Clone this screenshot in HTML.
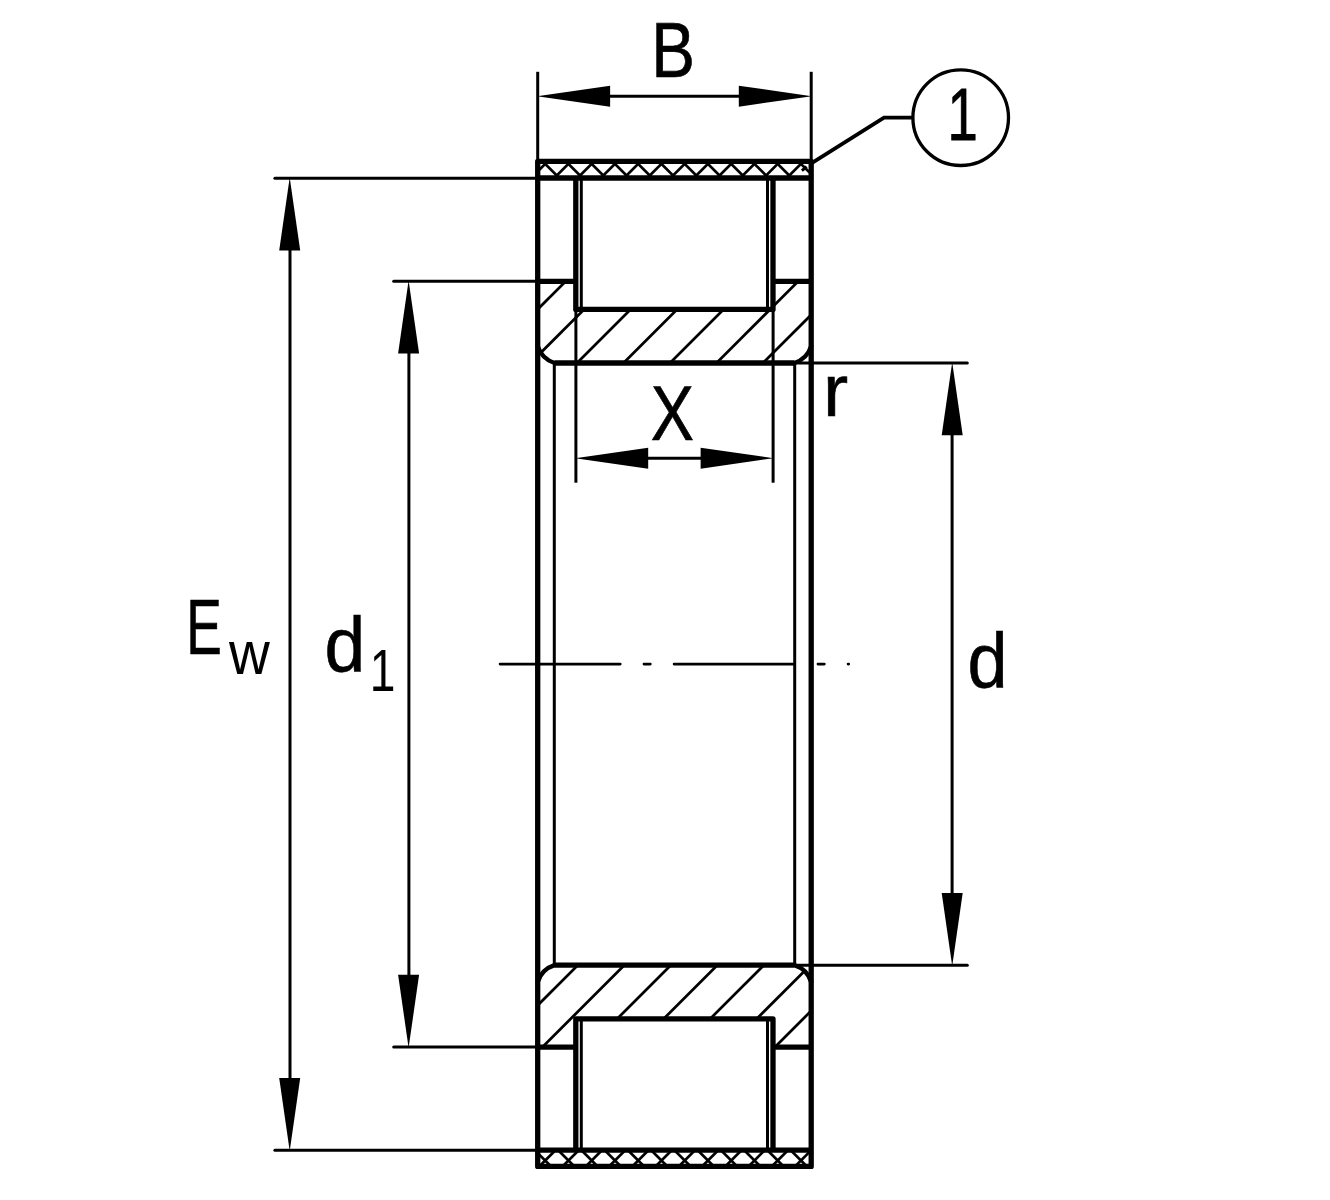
<!DOCTYPE html>
<html lang="en"><head><meta charset="utf-8"><title>Bearing drawing</title>
<style>html,body{margin:0;padding:0;background:#fff}svg{display:block}text{font-family:"Liberation Sans",sans-serif;fill:#000}</style></head><body>
<svg width="1330" height="1200" viewBox="0 0 1330 1200">
<rect width="1330" height="1200" fill="#fff"/>
<defs>
<clipPath id="c1"><path d="M537.7,281.3 H575.8 V309.4 H773.0 V281.3 H811.2 V346.2 A26.0,26.0 0 0 1 794.4000000000001,363.0 H554.5 A26.0,26.0 0 0 1 537.7,346.2 Z"/></clipPath>
<clipPath id="c2"><path d="M537.7,1047.2 H575.8 V1018.8 H773.0 V1047.2 H811.2 V982.0 A26.0,26.0 0 0 0 794.4000000000001,965.2 H554.5 A26.0,26.0 0 0 0 537.7,982.0 Z"/></clipPath>
<clipPath id="c3"><rect x="537.7" y="161.35" width="273.5" height="16.650000000000006"/></clipPath>
<clipPath id="c4"><rect x="537.7" y="1150.2" width="273.5" height="16.25"/></clipPath>
</defs>
<g clip-path="url(#c1)" stroke="#000" stroke-width="2.7" fill="none"><line x1="577.00" y1="270" x2="472.00" y2="375"/><line x1="623.50" y1="270" x2="518.50" y2="375"/><line x1="670.00" y1="270" x2="565.00" y2="375"/><line x1="716.50" y1="270" x2="611.50" y2="375"/><line x1="763.00" y1="270" x2="658.00" y2="375"/><line x1="809.50" y1="270" x2="704.50" y2="375"/><line x1="856.00" y1="270" x2="751.00" y2="375"/><line x1="902.50" y1="270" x2="797.50" y2="375"/></g>
<g clip-path="url(#c2)" stroke="#000" stroke-width="2.7" fill="none"><line x1="588.00" y1="955" x2="483.00" y2="1060"/><line x1="634.50" y1="955" x2="529.50" y2="1060"/><line x1="681.00" y1="955" x2="576.00" y2="1060"/><line x1="727.50" y1="955" x2="622.50" y2="1060"/><line x1="774.00" y1="955" x2="669.00" y2="1060"/><line x1="820.50" y1="955" x2="715.50" y2="1060"/><line x1="867.00" y1="955" x2="762.00" y2="1060"/><line x1="913.50" y1="955" x2="808.50" y2="1060"/></g>
<g clip-path="url(#c3)" stroke="#000" stroke-width="2.7" fill="none"><line x1="530.80" y1="155" x2="500.80" y2="185"/><line x1="554.05" y1="155" x2="524.05" y2="185"/><line x1="577.30" y1="155" x2="547.30" y2="185"/><line x1="600.55" y1="155" x2="570.55" y2="185"/><line x1="623.80" y1="155" x2="593.80" y2="185"/><line x1="647.05" y1="155" x2="617.05" y2="185"/><line x1="670.30" y1="155" x2="640.30" y2="185"/><line x1="693.55" y1="155" x2="663.55" y2="185"/><line x1="716.80" y1="155" x2="686.80" y2="185"/><line x1="740.05" y1="155" x2="710.05" y2="185"/><line x1="763.30" y1="155" x2="733.30" y2="185"/><line x1="786.55" y1="155" x2="756.55" y2="185"/><line x1="809.80" y1="155" x2="779.80" y2="185"/><line x1="833.05" y1="155" x2="803.05" y2="185"/><line x1="856.30" y1="155" x2="826.30" y2="185"/><line x1="879.55" y1="155" x2="849.55" y2="185"/></g>
<g clip-path="url(#c3)" stroke="#000" stroke-width="2.7" fill="none"><line x1="489.80" y1="155" x2="519.80" y2="185"/><line x1="513.05" y1="155" x2="543.05" y2="185"/><line x1="536.30" y1="155" x2="566.30" y2="185"/><line x1="559.55" y1="155" x2="589.55" y2="185"/><line x1="582.80" y1="155" x2="612.80" y2="185"/><line x1="606.05" y1="155" x2="636.05" y2="185"/><line x1="629.30" y1="155" x2="659.30" y2="185"/><line x1="652.55" y1="155" x2="682.55" y2="185"/><line x1="675.80" y1="155" x2="705.80" y2="185"/><line x1="699.05" y1="155" x2="729.05" y2="185"/><line x1="722.30" y1="155" x2="752.30" y2="185"/><line x1="745.55" y1="155" x2="775.55" y2="185"/><line x1="768.80" y1="155" x2="798.80" y2="185"/><line x1="792.05" y1="155" x2="822.05" y2="185"/><line x1="815.30" y1="155" x2="845.30" y2="185"/><line x1="838.55" y1="155" x2="868.55" y2="185"/></g>
<g clip-path="url(#c4)" stroke="#000" stroke-width="2.7" fill="none"><line x1="514.20" y1="1145" x2="487.20" y2="1172"/><line x1="537.45" y1="1145" x2="510.45" y2="1172"/><line x1="560.70" y1="1145" x2="533.70" y2="1172"/><line x1="583.95" y1="1145" x2="556.95" y2="1172"/><line x1="607.20" y1="1145" x2="580.20" y2="1172"/><line x1="630.45" y1="1145" x2="603.45" y2="1172"/><line x1="653.70" y1="1145" x2="626.70" y2="1172"/><line x1="676.95" y1="1145" x2="649.95" y2="1172"/><line x1="700.20" y1="1145" x2="673.20" y2="1172"/><line x1="723.45" y1="1145" x2="696.45" y2="1172"/><line x1="746.70" y1="1145" x2="719.70" y2="1172"/><line x1="769.95" y1="1145" x2="742.95" y2="1172"/><line x1="793.20" y1="1145" x2="766.20" y2="1172"/><line x1="816.45" y1="1145" x2="789.45" y2="1172"/><line x1="839.70" y1="1145" x2="812.70" y2="1172"/><line x1="862.95" y1="1145" x2="835.95" y2="1172"/></g>
<g clip-path="url(#c4)" stroke="#000" stroke-width="2.7" fill="none"><line x1="483.20" y1="1145" x2="510.20" y2="1172"/><line x1="506.45" y1="1145" x2="533.45" y2="1172"/><line x1="529.70" y1="1145" x2="556.70" y2="1172"/><line x1="552.95" y1="1145" x2="579.95" y2="1172"/><line x1="576.20" y1="1145" x2="603.20" y2="1172"/><line x1="599.45" y1="1145" x2="626.45" y2="1172"/><line x1="622.70" y1="1145" x2="649.70" y2="1172"/><line x1="645.95" y1="1145" x2="672.95" y2="1172"/><line x1="669.20" y1="1145" x2="696.20" y2="1172"/><line x1="692.45" y1="1145" x2="719.45" y2="1172"/><line x1="715.70" y1="1145" x2="742.70" y2="1172"/><line x1="738.95" y1="1145" x2="765.95" y2="1172"/><line x1="762.20" y1="1145" x2="789.20" y2="1172"/><line x1="785.45" y1="1145" x2="812.45" y2="1172"/><line x1="808.70" y1="1145" x2="835.70" y2="1172"/><line x1="831.95" y1="1145" x2="858.95" y2="1172"/></g>
<g stroke="#000" stroke-width="3.0" fill="none" stroke-linecap="round">
<line x1="554.3" y1="363.0" x2="554.3" y2="965.2" stroke-linecap="butt"/>
<line x1="794.7" y1="363.0" x2="794.7" y2="965.2" stroke-linecap="butt"/>
<line x1="581.3" y1="178.0" x2="581.3" y2="309.4" stroke-linecap="butt"/>
<line x1="767.5" y1="178.0" x2="767.5" y2="309.4" stroke-linecap="butt"/>
<line x1="581.3" y1="1018.8" x2="581.3" y2="1150.2" stroke-linecap="butt"/>
<line x1="767.5" y1="1018.8" x2="767.5" y2="1150.2" stroke-linecap="butt"/>
<line x1="575.9" y1="309.4" x2="575.9" y2="482.7" stroke-linecap="butt"/>
<line x1="773.1" y1="309.4" x2="773.1" y2="482.7" stroke-linecap="butt"/>
<line x1="645.8" y1="458.2" x2="703.0" y2="458.2" stroke-linecap="butt"/>
<line x1="537.7" y1="71.8" x2="537.7" y2="161.35" stroke-linecap="butt"/>
<line x1="811.2" y1="71.8" x2="811.2" y2="161.35" stroke-linecap="butt"/>
<line x1="607.7" y1="96.2" x2="741.2" y2="96.2" stroke-linecap="butt"/>
<line x1="274.9" y1="178.2" x2="537.7" y2="178.2"/>
<line x1="274.9" y1="1150.3" x2="537.7" y2="1150.3"/>
<line x1="290.0" y1="248.2" x2="290.0" y2="1080.3" stroke-linecap="butt"/>
<line x1="393.7" y1="281.3" x2="537.7" y2="281.3"/>
<line x1="393.7" y1="1047.0" x2="537.7" y2="1047.0"/>
<line x1="408.9" y1="351.3" x2="408.9" y2="977.0" stroke-linecap="butt"/>
<line x1="794.7" y1="363.0" x2="967.3" y2="363.0"/>
<line x1="794.7" y1="965.2" x2="967.3" y2="965.2"/>
<line x1="952.1" y1="433.0" x2="952.1" y2="895.2" stroke-linecap="butt"/>
<line x1="801.9" y1="170.6" x2="806.6" y2="166.6" stroke-width="3" stroke-linecap="butt"/>
<line x1="500.05" y1="664.1" x2="848.7" y2="664.1" stroke-width="2.7" stroke-dasharray="120.2 23.7 6.4 23.7" stroke-dashoffset="0"/>
</g>
<path d="M811.7,163.2 L884,117.7 H912" stroke="#000" stroke-width="3.8" fill="none" stroke-linejoin="miter"/>
<circle cx="960.7" cy="117.7" r="47.8" stroke="#000" stroke-width="3.3" fill="none"/>
<g stroke="#000" stroke-width="5.3" fill="none" stroke-linejoin="round" stroke-linecap="butt">
<rect x="537.7" y="161.35" width="273.5" height="1005.1"/>
<line x1="537.7" y1="178.0" x2="811.2" y2="178.0"/>
<line x1="537.7" y1="1150.2" x2="811.2" y2="1150.2"/>
<path d="M537.7,281.3 H575.8"/><path d="M773.0,281.3 H811.2"/>
<path d="M575.8,178.0 V309.4 H773.0 V178.0"/>
<path d="M554.5,363.0 H794.4000000000001"/>
<path stroke-width="4.4" stroke-linecap="round" d="M537.7,346.2 A26.0,26.0 0 0 0 554.5,363.0 M794.4000000000001,363.0 A26.0,26.0 0 0 0 811.2,346.2"/>
<path d="M537.7,1047.2 H575.8"/><path d="M773.0,1047.2 H811.2"/>
<path d="M575.8,1150.2 V1018.8 H773.0 V1150.2"/>
<path d="M554.5,965.2 H794.4000000000001"/>
<path stroke-width="4.4" stroke-linecap="round" d="M537.7,982.0 A26.0,26.0 0 0 1 554.5,965.2 M794.4000000000001,965.2 A26.0,26.0 0 0 1 811.2,982.0"/>
</g>
<g fill="#000" stroke="none">
<polygon points="289.70,177.40 300.20,250.40 279.20,250.40"/>
<polygon points="289.70,1151.10 279.20,1078.10 300.20,1078.10"/>
<polygon points="408.60,280.50 419.10,353.50 398.10,353.50"/>
<polygon points="408.60,1047.80 398.10,974.80 419.10,974.80"/>
<polygon points="952.20,362.20 962.70,435.20 941.70,435.20"/>
<polygon points="952.20,966.00 941.70,893.00 962.70,893.00"/>
<polygon points="537.10,96.20 610.10,85.70 610.10,106.70"/>
<polygon points="811.80,96.20 738.80,106.70 738.80,85.70"/>
<polygon points="575.20,458.20 648.20,447.70 648.20,468.70"/>
<polygon points="773.60,458.20 700.60,468.70 700.60,447.70"/>
</g>
<g>
<text transform="translate(651.22,76.50) scale(0.8448,1)" font-size="77.62" stroke="#000" stroke-width="0.6" stroke-linejoin="miter" vector-effect="non-scaling-stroke">B</text>
<text transform="translate(650.64,439.50) scale(0.8270,1)" font-size="78.34" stroke="#000" stroke-width="0.6" stroke-linejoin="miter" vector-effect="non-scaling-stroke">X</text>
<g><text transform="translate(186.23,654.00) scale(0.6870,1)" font-size="77.62" stroke="#000" stroke-width="0.6" stroke-linejoin="miter" vector-effect="non-scaling-stroke">E</text><text transform="translate(228.88,673.80) scale(0.9323,1)" font-size="60.57" >w</text></g>
<g><text transform="translate(324.53,672.24) scale(0.9360,1)" font-size="78.16" stroke="#000" stroke-width="0.6" stroke-linejoin="miter" vector-effect="non-scaling-stroke">d</text><text transform="translate(369.78,690.80) scale(0.7745,1)" font-size="59.59" >1</text></g>
<text transform="translate(967.57,687.83) scale(0.9170,1)" font-size="78.57" stroke="#000" stroke-width="0.6" stroke-linejoin="miter" vector-effect="non-scaling-stroke">d</text>
<text transform="translate(823.08,415.50) scale(1.0195,1)" font-size="74.15" stroke="#000" stroke-width="0.6" stroke-linejoin="miter" vector-effect="non-scaling-stroke">r</text>
<text transform="translate(947.55,139.60) scale(0.7353,1)" font-size="74.13" stroke="#000" stroke-width="0.8" stroke-linejoin="miter" vector-effect="non-scaling-stroke">1</text>
</g>
</svg></body></html>
